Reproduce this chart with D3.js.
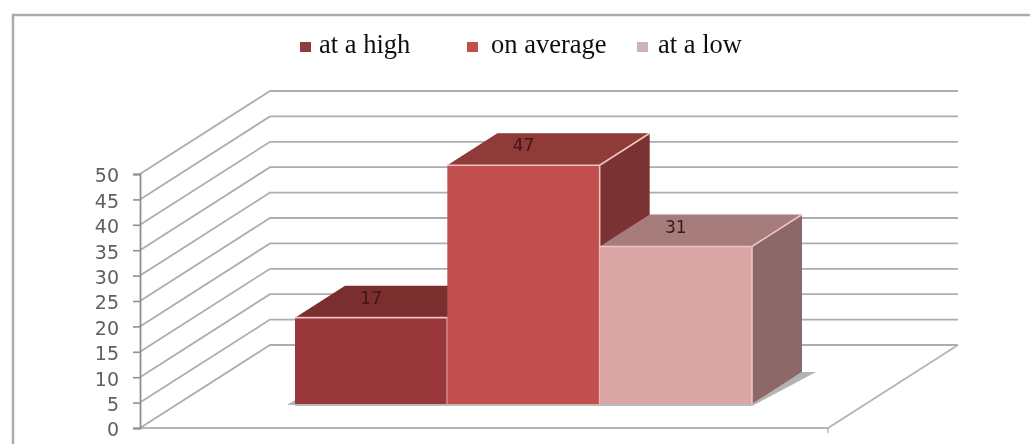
<!DOCTYPE html>
<html>
<head>
<meta charset="utf-8">
<script src="https://cdn.jsdelivr.net/npm/d3@7"></script>
<style>
html, body { margin: 0; padding: 0; background: #fff; }
svg { display: block; }
</style>
</head>
<body>
<div id="chart"></div>
<script>
var categories = ["at a high", "on average", "at a low"];
var values = [17, 47, 31];
var yTicks = [0, 5, 10, 15, 20, 25, 30, 35, 40, 45, 50];

var frontColors = ["#98393a", "#c0504d", "#d9a6a5"];
var topColors = ["#7a2e2e", "#8f3a38", "#a67c7c"];
var sideColors = ["#6f2a2a", "#7a3130", "#8c6868"];
var legendColors = ["#8f3a42", "#c0504d", "#cdb3b6"];

var width = 1030, height = 444;

var root = d3.select("#chart").append("svg")
	.attr("width", width)
	.attr("height", height);

// the source is a soft scan, so everything gets a slight blur
root.append("defs").append("filter")
	.attr("id", "soft")
	.attr("x", 0).attr("y", 0)
	.attr("width", 1).attr("height", 1)
	.attr("filterUnits", "objectBoundingBox")
	.append("feGaussianBlur")
	.attr("stdDeviation", 0.6);

var svg = root.append("g").attr("filter", "url(#soft)");

// white rect keeps the filter box at full page size
svg.append("rect")
	.attr("width", width)
	.attr("height", height)
	.attr("fill", "#fff");

// outer frame, runs off the right and bottom of the picture
svg.append("path")
	.attr("d", "M13,444V15H1030")
	.attr("fill", "none")
	.attr("stroke", "#ababab")
	.attr("stroke-width", 2.5);

var y = d3.scaleLinear().domain([0, 50]).range([428, 174]);

// depth of the 3d box
var depthX = 130, depthY = -83;
var plotLeft = 140, plotRight = 828;

// gridlines: along the side wall then the back wall
svg.append("g").selectAll("path")
	.data(yTicks)
	.enter().append("path")
	.attr("d", function(d) {
		return "M" + plotLeft + "," + y(d) +
			"L" + (plotLeft + depthX) + "," + (y(d) + depthY) +
			"L" + (plotRight + depthX) + "," + (y(d) + depthY);
	})
	.attr("fill", "none")
	.attr("stroke", "#adadad")
	.attr("stroke-width", 1.8);

// floor edges
svg.append("path")
	.attr("d", "M" + plotLeft + "," + y(0) + "H" + plotRight +
		"L" + (plotRight + depthX) + "," + (y(0) + depthY))
	.attr("fill", "none")
	.attr("stroke", "#b5b5b5")
	.attr("stroke-width", 1.8);
svg.append("path")
	.attr("d", "M" + plotRight + "," + y(0) + "v5")
	.attr("stroke", "#a8a8a8")
	.attr("stroke-width", 1.2);

// value axis
var axis = svg.append("g").attr("transform", "translate(" + plotLeft + ",0)")
	.call(d3.axisLeft(y).tickValues(yTicks).tickSize(7).tickPadding(14));
axis.select(".domain").attr("stroke", "#8f8f8f").attr("stroke-width", 1.8);
axis.selectAll(".tick line").attr("stroke", "#8f8f8f").attr("stroke-width", 1.6);
axis.selectAll("text")
	.attr("fill", "#5f5f5f")
	.attr("dy", "0.42em")
	.style("font-family", "'DejaVu Sans'")
	.style("font-size", "19px");

// bars sit part way into the box
var barDepthX = 50, barDepthY = -32;
var inX = 36, inY = -24;
var x = d3.scaleBand().domain(categories).range([plotLeft + 119, plotLeft + 576]);

var bars = svg.append("g").selectAll("g")
	.data(categories)
	.enter().append("g");

// floor shadow
bars.filter(function(d, i) { return i == 0; }).append("path")
	.attr("d", function(d) {
		var x0 = x(d) + inX, b = y(0) + inY;
		return "M" + (x0 - 8) + "," + (b + 1) + "L" + x0 + "," + (b - 4) + "V" + (b + 1) + "Z";
	})
	.attr("fill", "#b5b5b5");
bars.filter(function(d, i) { return i == 2; }).append("path")
	.attr("d", function(d) {
		var x1 = x(d) + x.bandwidth() + inX, b = y(0) + inY;
		return "M" + x1 + "," + (b + 2) + "L" + (x1 + barDepthX + 14) + "," + (b + barDepthY) +
			"H" + (x1 + barDepthX) + "L" + x1 + "," + b + "Z";
	})
	.attr("fill", "#b3b3b3");
svg.append("path")
	.attr("d", "M" + (x(categories[0]) + inX) + "," + (y(0) + inY + 1) + "H" + (x(categories[2]) + x.bandwidth() + inX))
	.attr("stroke", "#bbb")
	.attr("stroke-width", 2);

// side faces
bars.append("path")
	.attr("d", function(d, i) {
		var x1 = x(d) + x.bandwidth() + inX, b = y(0) + inY, t = y(values[i]) + inY;
		return "M" + x1 + "," + b + "L" + (x1 + barDepthX) + "," + (b + barDepthY) +
			"V" + (t + barDepthY) + "L" + x1 + "," + t + "Z";
	})
	.attr("fill", function(d, i) { return sideColors[i]; });

// top faces
bars.append("path")
	.attr("d", function(d, i) {
		var x0 = x(d) + inX, x1 = x0 + x.bandwidth(), t = y(values[i]) + inY;
		return "M" + x0 + "," + t + "L" + (x0 + barDepthX) + "," + (t + barDepthY) +
			"H" + (x1 + barDepthX) + "L" + x1 + "," + t + "Z";
	})
	.attr("fill", function(d, i) { return topColors[i]; });

// front faces
bars.append("rect")
	.attr("x", function(d) { return x(d) + inX; })
	.attr("y", function(d, i) { return y(values[i]) + inY; })
	.attr("width", x.bandwidth())
	.attr("height", function(d, i) { return y(0) - y(values[i]); })
	.attr("fill", function(d, i) { return frontColors[i]; });

// light edges
bars.append("path")
	.attr("d", function(d, i) {
		var x0 = x(d) + inX, x1 = x0 + x.bandwidth(), b = y(0) + inY, t = y(values[i]) + inY;
		return "M" + x0 + "," + t + "H" + x1 + "V" + b +
			"M" + x1 + "," + t + "L" + (x1 + barDepthX) + "," + (t + barDepthY);
	})
	.attr("fill", "none")
	.attr("stroke", "#f0c4c2")
	.attr("stroke-width", 1.6);

// value labels on the top faces
bars.append("text")
	.attr("x", function(d) { return x(d) + inX + x.bandwidth() / 2; })
	.attr("y", function(d, i) { return y(values[i]) + inY - 14; })
	.attr("text-anchor", "middle")
	.attr("fill", "#3f1616")
	.style("font-family", "'DejaVu Sans'")
	.style("font-size", "17px")
	.text(function(d, i) { return values[i]; });

// legend
var legendMarkX = [300, 467, 637];
var legendTextX = [319, 491, 658];
var legend = svg.append("g").selectAll("g")
	.data(categories)
	.enter().append("g");
legend.append("rect")
	.attr("x", function(d, i) { return legendMarkX[i]; })
	.attr("y", 42)
	.attr("width", 11)
	.attr("height", 10)
	.attr("fill", function(d, i) { return legendColors[i]; });
legend.append("text")
	.attr("x", function(d, i) { return legendTextX[i]; })
	.attr("y", 53)
	.attr("fill", "#111")
	.style("font-family", "'Liberation Serif'")
	.style("font-size", "26.5px")
	.text(function(d) { return d; });
</script>
</body>
</html>
